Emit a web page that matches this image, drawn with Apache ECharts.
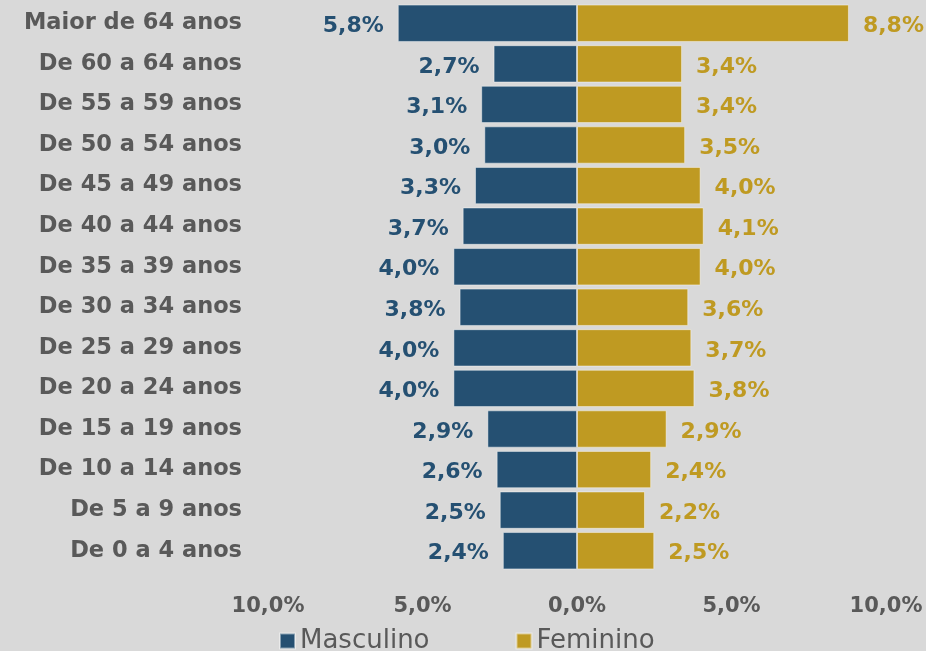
<!DOCTYPE html>
<html>
<head>
<meta charset="utf-8">
<script src="https://cdn.jsdelivr.net/npm/echarts@6/dist/echarts.min.js"></script>
<style>
  html, body { margin: 0; padding: 0; background: #d9d9d9; }
  #chart-container { width: 926px; height: 651px; }
</style>
</head>
<body>
<div id="chart-container"></div>
<script>
// faixas etárias, de baixo para cima
var faixas = [
  'De 0 a 4 anos', 'De 5 a 9 anos', 'De 10 a 14 anos', 'De 15 a 19 anos',
  'De 20 a 24 anos', 'De 25 a 29 anos', 'De 30 a 34 anos', 'De 35 a 39 anos',
  'De 40 a 44 anos', 'De 45 a 49 anos', 'De 50 a 54 anos', 'De 55 a 59 anos',
  'De 60 a 64 anos', 'Maior de 64 anos'
];
var masculino = [2.4, 2.5, 2.6, 2.9, 4.0, 4.0, 3.8, 4.0, 3.7, 3.3, 3.0, 3.1, 2.7, 5.8];
var feminino = [2.5, 2.2, 2.4, 2.9, 3.8, 3.7, 3.6, 4.0, 4.1, 4.0, 3.5, 3.4, 3.4, 8.8];

var font = 'DejaVu Sans';

function pct(v) {
  return Math.abs(v).toFixed(1).replace('.', ',') + '%';
}

var dom = document.getElementById('chart-container');
var myChart = echarts.init(dom);

var option = {
  backgroundColor: '#d9d9d9',
  animation: false,
  grid: { left: 268, right: 40, top: 3, bottom: 80 },
  legend: {
    left: 274,
    bottom: -8,
    itemWidth: 15,
    itemHeight: 15,
    itemGap: 86,
    icon: 'rect',
    textStyle: { color: '#595959', fontSize: 26, fontFamily: font, fontWeight: 'normal' },
    data: ['Masculino', 'Feminino']
  },
  xAxis: {
    type: 'value',
    min: -10,
    max: 10,
    interval: 5,
    splitLine: { show: false },
    axisLine: { show: false },
    axisTick: { show: false },
    axisLabel: {
      formatter: pct,
      color: '#595959',
      fontSize: 21,
      fontWeight: 'bold',
      fontFamily: font,
      margin: 25
    }
  },
  yAxis: {
    type: 'category',
    data: faixas,
    axisLine: { show: false, onZero: false },
    axisTick: { show: false },
    axisLabel: {
      color: '#595959',
      fontSize: 22.5,
      fontWeight: 'bold',
      fontFamily: font,
      margin: 26
    }
  },
  series: [
    {
      name: 'Masculino',
      type: 'bar',
      barGap: '-100%',
      barCategoryGap: '8%',
      data: masculino.map(function (v) { return -v; }),
      itemStyle: { color: '#255072', borderColor: 'rgba(255,255,255,0.45)', borderWidth: 1 },
      label: {
        show: true,
        position: 'left',
        distance: 14,
        offset: [0, 3],
        formatter: function (p) { return pct(p.value); },
        color: '#255072',
        fontSize: 22,
        fontWeight: 'bold',
        fontFamily: font
      }
    },
    {
      name: 'Feminino',
      type: 'bar',
      data: feminino,
      itemStyle: { color: '#bf9a22', borderColor: 'rgba(255,255,255,0.45)', borderWidth: 1 },
      label: {
        show: true,
        position: 'right',
        distance: 14,
        offset: [0, 3],
        formatter: function (p) { return pct(p.value); },
        color: '#bf9a22',
        fontSize: 22,
        fontWeight: 'bold',
        fontFamily: font
      }
    }
  ]
};

myChart.setOption(option);
</script>
</body>
</html>
